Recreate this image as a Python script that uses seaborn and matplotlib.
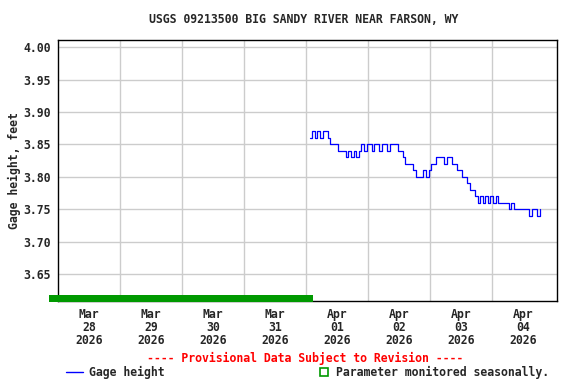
import pandas as pd
import numpy as np
import seaborn as sns
import matplotlib.pyplot as plt
import matplotlib.dates as mdates
from matplotlib.patches import Rectangle

# Hourly gage height readings (feet) from Apr 01 01:30
start_time = "2026-04-01 01:30"
gage_height = [
    3.86, 3.87, 3.86, 3.87, 3.86, 3.87, 3.87, 3.86, 3.85, 3.85,
    3.85, 3.84, 3.84, 3.84, 3.83, 3.84, 3.83, 3.84, 3.83, 3.84,
    3.85, 3.84, 3.85, 3.85, 3.84, 3.85, 3.85, 3.84, 3.85, 3.85,
    3.84, 3.85, 3.85, 3.85, 3.84, 3.84, 3.83, 3.82, 3.82, 3.82,
    3.81, 3.80, 3.80, 3.80, 3.81, 3.80, 3.81, 3.82, 3.82, 3.83,
    3.83, 3.83, 3.82, 3.83, 3.83, 3.82, 3.82, 3.81, 3.81, 3.80,
    3.80, 3.79, 3.78, 3.78, 3.77, 3.76, 3.77, 3.76, 3.77, 3.76,
    3.77, 3.76, 3.77, 3.76, 3.76, 3.76, 3.76, 3.75, 3.76, 3.75,
    3.75, 3.75, 3.75, 3.75, 3.75, 3.74, 3.75, 3.75, 3.74, 3.75,
]
day_labels = ["Mar\n28\n2026", "Mar\n29\n2026", "Mar\n30\n2026", "Mar\n31\n2026",
              "Apr\n01\n2026", "Apr\n02\n2026", "Apr\n03\n2026", "Apr\n04\n2026"]
y_ticks = [3.65, 3.70, 3.75, 3.80, 3.85, 3.90, 3.95, 4.00]
seasonal_start = "2026-03-27 20:30"
seasonal_end = "2026-04-01 02:40"

df = pd.DataFrame({
    "time": pd.date_range(start_time, periods=len(gage_height), freq="h"),
    "gage": gage_height,
})

sns.set_style("white")
plt.rcParams["font.family"] = ["DejaVu Sans Mono"]
plt.rcParams["font.weight"] = "bold"
fs = 8.3

fig = plt.figure(figsize=(5.76, 3.84), dpi=100)
ax = fig.add_axes([0.1007, 0.216, 0.866, 0.680])

sns.lineplot(data=df, x="time", y="gage", color="#0000ff", linewidth=0.9,
             drawstyle="steps-post", ax=ax, legend=False)

x0 = pd.Timestamp("2026-03-28 00:00")
ax.set_xlim(x0, x0 + pd.Timedelta(days=8.05))
ax.set_ylim(3.6085, 4.011)

# day boundaries as gridlines, labels at noon
ax.set_xticks(pd.date_range("2026-03-29", periods=7, freq="D"))
ax.set_xticklabels([])
ax.set_xticks(pd.date_range("2026-03-28 12:00", periods=8, freq="D"), minor=True)
ax.set_xticklabels(day_labels, minor=True, fontsize=fs, fontweight="bold",
                   linespacing=1.0)
ax.tick_params(axis="x", which="both", length=0, pad=5)
ax.set_yticks(y_ticks)
ax.set_yticklabels([f"{v:.2f}" for v in y_ticks], fontsize=fs, fontweight="bold")
ax.tick_params(axis="y", length=0, pad=5)
ax.grid(True, which="major", color="#cccccc", linewidth=1)
for s in ax.spines.values():
    s.set_color("black")
    s.set_linewidth(1)

ax.set_xlabel("")
ax.set_ylabel("Gage height, feet", fontsize=fs, fontweight="bold", labelpad=2)

# seasonal bar
xs = mdates.date2num(pd.Timestamp(seasonal_start))
xe = mdates.date2num(pd.Timestamp(seasonal_end))
ax.add_patch(Rectangle((xs, 3.6068), xe - xs, 0.0108, color="#009900",
                       clip_on=False, zorder=5, linewidth=0))

fig.text(0.527, 0.948, "USGS 09213500 BIG SANDY RIVER NEAR FARSON, WY",
         ha="center", va="center", fontsize=fs, fontweight="bold")
fig.text(0.530, 0.067, "---- Provisional Data Subject to Revision ----",
         ha="center", va="center", fontsize=fs, fontweight="bold", color="red")

fig.add_artist(plt.Line2D([0.114, 0.144], [0.031, 0.031], color="#0000ff",
                          linewidth=1, transform=fig.transFigure))
fig.text(0.154, 0.031, "Gage height", ha="left", va="center", fontsize=fs,
         fontweight="bold")
fig.add_artist(Rectangle((0.556, 0.020), 0.014, 0.022, transform=fig.transFigure,
                         facecolor="none", edgecolor="#009900", linewidth=1.2))
fig.text(0.583, 0.031, "Parameter monitored seasonally.", ha="left", va="center",
         fontsize=fs, fontweight="bold")

fig.savefig("out.png", dpi=100)
